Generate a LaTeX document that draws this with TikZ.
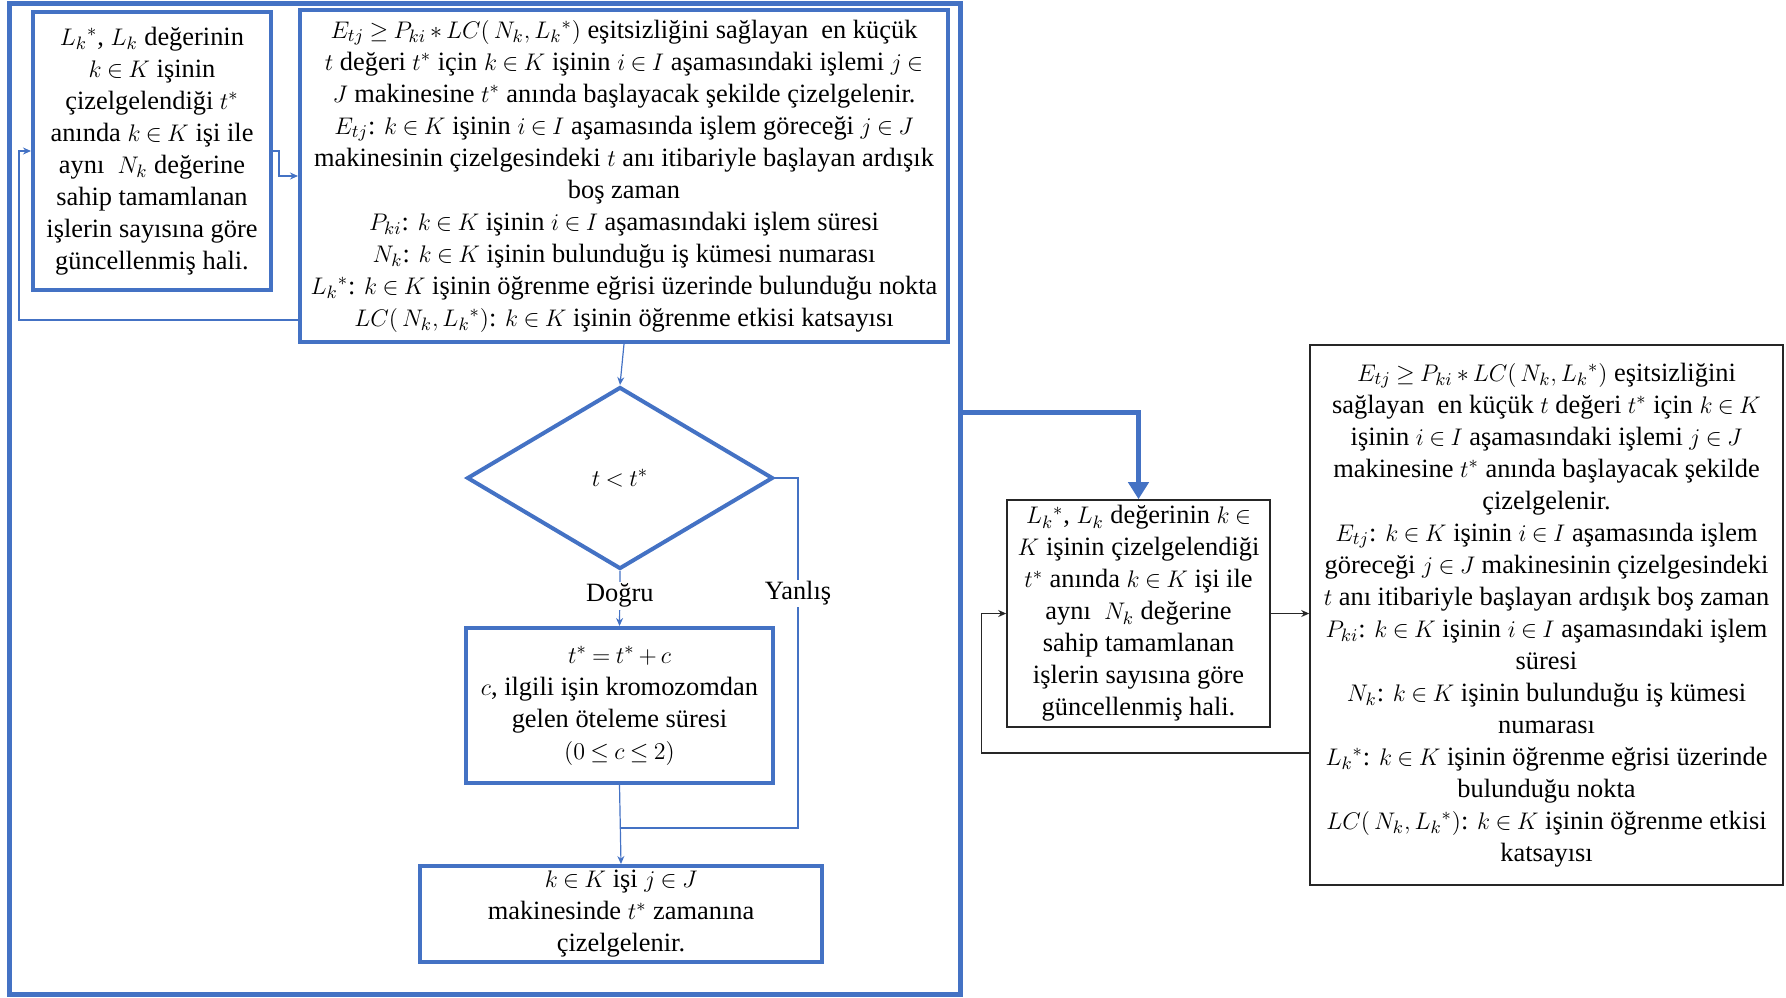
\documentclass[tikz,border=0pt]{standalone}
\usepackage{fontspec}
\setmainfont{Liberation Serif}
\usetikzlibrary{shapes.geometric,arrows.meta,calc}
\definecolor{flowblue}{HTML}{4472C4}
\definecolor{boxgray}{HTML}{262626}
% slightly tighter spacing around relations and operators
\thickmuskip=4mu plus 2mu
\medmuskip=3mu plus 1mu minus 2mu
\begin{document}
\begin{tikzpicture}[x=0.5pt,y=-0.5pt,
  txt/.style={font=\fontsize{13.2}{16}\selectfont, align=center},
  bluebox/.style={txt, draw=flowblue, line width=2pt, rectangle, inner sep=0pt},
  blackbox/.style={txt, draw=boxgray, line width=0.8pt, rectangle, inner sep=0pt},
  conn/.style={draw=flowblue, line width=0.6pt, -{Stealth[length=4pt,width=3.5pt]}},
  plainline/.style={draw=flowblue, line width=0.6pt},
  blackconn/.style={draw=boxgray, line width=0.6pt, -{Stealth[length=4pt,width=3.5pt]}},
  bigconn/.style={draw=flowblue, line width=2.5pt, -{Triangle[length=8.5pt,width=10pt]}},
  lbl/.style={txt, fill=white, inner sep=1pt}]

\useasboundingbox (0,0) rectangle (1786,997);

% outer frame around the procedure
\node[draw=flowblue, line width=2.5pt, minimum width=475.5pt, minimum height=495.5pt, inner sep=0pt]
  (frame) at (484.5,498.5) {};

% update step
\node[bluebox, minimum width=119pt, minimum height=139pt] (A) at (152,151)
 {$L_k{}^{*}$, $L_k$ değerinin\\
  $k\in K$ işinin\\
  çizelgelendiği $t^{*}$\\
  anında $k\in K$ işi ile\\
  aynı\ \ $N_k$ değerine\\
  sahip tamamlanan\\
  işlerin sayısına göre\\
  güncellenmiş hali.};

% scheduling rule
\node[bluebox, minimum width=324pt, minimum height=166pt] (B) at (624,176)
 {$E_{tj}\geq P_{ki}*LC(\,N_k,L_k{}^{*})$ eşitsizliğini sağlayan\ \ en küçük\\
  $t$ değeri $t^{*}$ için $k\in K$ işinin $i\in I$ aşamasındaki işlemi $j\in$\\
  $J$ makinesine $t^{*}$ anında başlayacak şekilde çizelgelenir.\\
  $E_{tj}$: $k\in K$ işinin $i\in I$ aşamasında işlem göreceği $j\in J$\\
  makinesinin çizelgesindeki $t$ anı itibariyle başlayan ardışık\\
  boş zaman\\
  $P_{ki}$: $k\in K$ işinin $i\in I$ aşamasındaki işlem süresi\\
  $N_k$: $k\in K$ işinin bulunduğu iş kümesi numarası\\
  $L_k{}^{*}$: $k\in K$ işinin öğrenme eğrisi üzerinde bulunduğu nokta\\
  $LC(\,N_k,L_k{}^{*})$: $k\in K$ işinin öğrenme etkisi katsayısı};

% decision
\node[txt, diamond, draw=flowblue, line width=2pt, minimum width=153pt, minimum height=91pt, inner sep=0pt]
  (dia) at (620,478) {$t<t^{*}$};

% shift step
\node[bluebox, minimum width=153.5pt, minimum height=77.5pt] (C) at (619.5,705.5)
 {$t^{*}=t^{*}+c$\\
  $c$, ilgili işin kromozomdan\\
  gelen öteleme süresi\\
  $(0\leq c\leq 2)$};

% final scheduling
\node[bluebox, minimum width=201pt, minimum height=48pt] (D) at (621,914)
 {$k\in K$ işi $j\in J$\\
  makinesinde $t^{*}$ zamanına\\
  çizelgelenir.};

% right-hand loop
\node[blackbox, minimum width=131.5pt, minimum height=113.5pt] (E) at (1138.5,613.5)
 {$L_k{}^{*}$, $L_k$ değerinin $k\in$\\
  $K$ işinin çizelgelendiği\\
  $t^{*}$ anında $k\in K$ işi ile\\
  aynı\ \ $N_k$ değerine\\
  sahip tamamlanan\\
  işlerin sayısına göre\\
  güncellenmiş hali.};

\node[blackbox, minimum width=236.5pt, minimum height=270pt] (F) at (1546.5,615)
 {$E_{tj}\geq P_{ki}*LC(\,N_k,L_k{}^{*})$ eşitsizliğini\\
  sağlayan\ \ en küçük $t$ değeri $t^{*}$ için $k\in K$\\
  işinin $i\in I$ aşamasındaki işlemi $j\in J$\\
  makinesine $t^{*}$ anında başlayacak şekilde\\
  çizelgelenir.\\
  $E_{tj}$: $k\in K$ işinin $i\in I$ aşamasında işlem\\
  göreceği $j\in J$ makinesinin çizelgesindeki\\
  $t$ anı itibariyle başlayan ardışık boş zaman\\
  $P_{ki}$: $k\in K$ işinin $i\in I$ aşamasındaki işlem\\
  süresi\\
  $N_k$: $k\in K$ işinin bulunduğu iş kümesi\\
  numarası\\
  $L_k{}^{*}$: $k\in K$ işinin öğrenme eğrisi üzerinde\\
  bulunduğu nokta\\
  $LC(\,N_k,L_k{}^{*})$: $k\in K$ işinin öğrenme etkisi\\
  katsayısı};

% connectors inside the frame
\draw[conn] (A.east) -- ++(6,0) |- (B.west);
\draw[conn] ([yshift=12pt]B.south west) -- ++(-279,0) |- (A.west);
\draw[conn] (B.south) -- (dia.north);
\draw[conn] (dia.south) -- node[lbl, pos=0.45] {Doğru} (C.north);
\coordinate (join) at (798,828);
\draw[plainline] (dia.east) -| node[lbl, pos=0.665] {Yanlış} (join) -- (C.south |- join);
\draw[conn] (C.south) -- (D.north);

% link from the frame to the right-hand loop
\draw[bigconn] ([yshift=43pt]frame.east) -| (E.north);
\draw[blackconn] (E.east) -- (E.east -| F.west);
\draw[blackconn] ([yshift=-69pt]F.west) -- ++(-328,0) |- (E.west);

\end{tikzpicture}
\end{document}
